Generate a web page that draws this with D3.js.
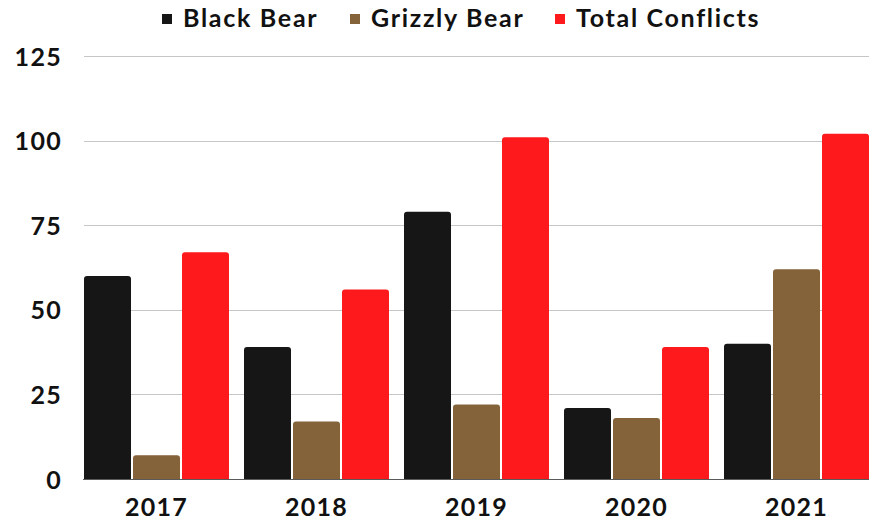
<!DOCTYPE html>
<html><head><meta charset="utf-8">
<script src="https://cdn.jsdelivr.net/npm/d3@7"></script>
<style>body{margin:0;background:#fff}svg{display:block;font-family:Lato,"Open Sans",sans-serif;font-weight:700}</style>
</head><body><svg id="c" width="879" height="524"></svg>
<script>
const years = ["2017","2018","2019","2020","2021"];
const seriesNames = ["Black Bear","Grizzly Bear","Total Conflicts"];
const blackBear = [60,39,79,21,40];
const grizzlyBear = [7,17,22,18,62];
const totalConflicts = [67,56,101,39,102];
const yTicks = [0,25,50,75,100,125];
const colors = ["#161616","#84633a","#fe1a1c"];

(function(){
const svg = d3.select("#c");
const pLeft = 84, pRight = 869, pTop = 56, pBottom = 479;
const y = d3.scaleLinear().domain([0,125]).range([pBottom, pTop]);
const x0 = d3.scaleBand().domain(years).range([pLeft, pRight]).paddingInner(0.09375).paddingOuter(0);
const x1 = d3.scaleBand().domain(seriesNames).range([0, x0.bandwidth()]).paddingInner(2/49).paddingOuter(0);
const values = [blackBear, grizzlyBear, totalConflicts];

svg.append("g").selectAll("line").data(yTicks.filter(d=>d>0)).join("line")
  .attr("x1", pLeft).attr("x2", pRight)
  .attr("y1", d=>Math.round(y(d))+0.5).attr("y2", d=>Math.round(y(d))+0.5)
  .attr("stroke", "#c6c6c6").attr("stroke-width", 1);

const yAxis = d3.axisLeft(y).tickValues(yTicks).tickSize(0).tickPadding(0);
const ga = svg.append("g").attr("transform", `translate(62,0)`).call(yAxis);
ga.select(".domain").remove();
ga.selectAll("text").attr("font-size", 25).attr("font-family","Lato").attr("font-weight",700)
  .attr("letter-spacing", 1.3).attr("fill","#111").attr("dy","0.36em");

function barPath(x, yt, w, h, r){
  r = Math.min(r, h, w/2);
  return `M${x},${yt+h}V${yt+r}Q${x},${yt} ${x+r},${yt}H${x+w-r}Q${x+w},${yt} ${x+w},${yt+r}V${yt+h}Z`;
}
const g = svg.append("g");
years.forEach((yr,i)=>{
  seriesNames.forEach((s,j)=>{
    const v = values[j][i];
    const bx = x0(yr) + x1(s);
    const by = y(v);
    g.append("path").attr("d", barPath(bx, by, x1.bandwidth(), pBottom - by, 3))
      .attr("fill", colors[j]);
  });
});

svg.append("line").attr("x1", pLeft-1).attr("x2", pRight).attr("y1", pBottom+0.5).attr("y2", pBottom+0.5)
  .attr("stroke","#5a5a5a").attr("stroke-width",1);

const xAxis = d3.axisBottom(x0).tickSize(0).tickPadding(0);
const gx = svg.append("g").attr("transform", `translate(0,${pBottom})`).call(xAxis);
gx.select(".domain").remove();
gx.selectAll("text").attr("font-size", 25).attr("font-family","Lato").attr("font-weight",700)
  .attr("letter-spacing", 1.3).attr("fill","#111").attr("y", 37).attr("dy", 0);

const legX = [162, 350, 555];
const lg = svg.append("g");
seriesNames.forEach((s,j)=>{
  lg.append("rect").attr("x", legX[j]).attr("y", 14).attr("width", 10).attr("height", 10).attr("fill", colors[j]);
  lg.append("text").attr("x", legX[j]+21).attr("y", 27)
    .attr("font-size", 25).attr("letter-spacing", 1.7).attr("fill","#111").text(s);
});
})();
</script></body></html>
